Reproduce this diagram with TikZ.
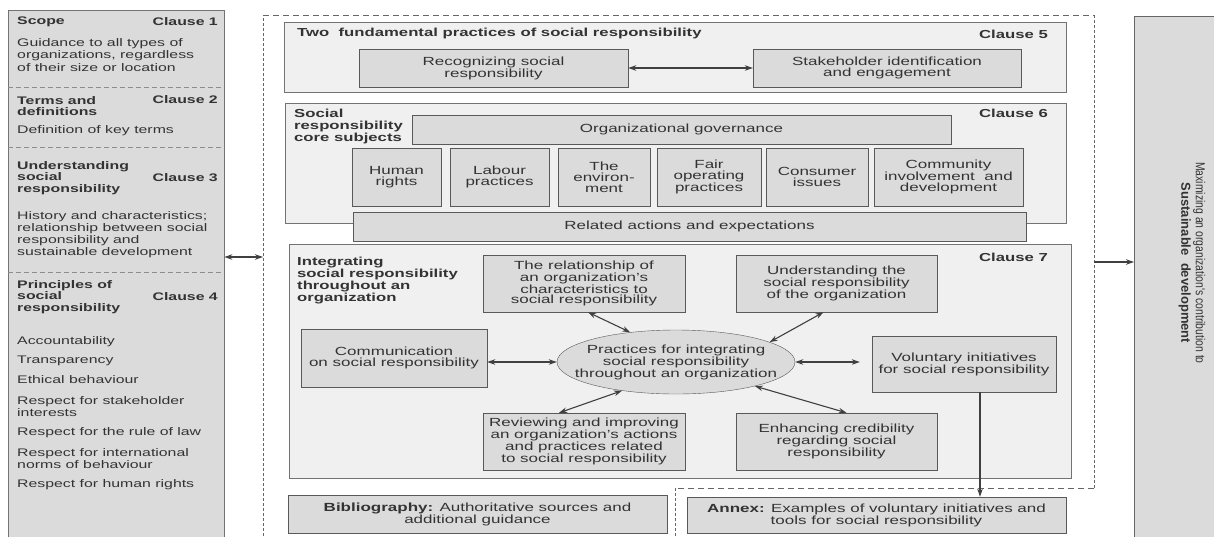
\documentclass[tikz,border=0pt]{standalone}
\usepackage{fontspec}
\setmainfont{Liberation Sans}[FakeStretch=1.44]
\newfontfamily\narrowfont{Liberation Sans}[FakeStretch=0.8]
\newfontfamily\uprightfont{Liberation Sans}
\usetikzlibrary{arrows.meta,shapes.geometric}

\newcommand{\boxfont}{\fontsize{11.8}{10.8}\selectfont}
\newcommand{\headfont}{\fontsize{11.6}{12}\selectfont\bfseries}
\newcommand{\sidefont}{\fontsize{11}{12.8}\selectfont}
\newcommand{\sideheadfont}{\fontsize{11}{11.8}\selectfont\bfseries}

\begin{document}
\begin{tikzpicture}[x=1pt, y=-1pt,
    every node/.style={text=black!80, inner sep=0pt},
    panel/.style={draw=black!55, fill=black!6, anchor=north west},
    box/.style={draw=black!65, fill=black!14, align=center, font=\boxfont},
    head/.style={font=\headfont, align=left, anchor=west},
    clause/.style={font=\headfont, anchor=east},
    sidetext/.style={font=\sidefont, align=left, anchor=west},
    sidehead/.style={font=\sideheadfont, align=left, anchor=west},
    sideclause/.style={font=\sideheadfont, anchor=east},
    sepline/.style={draw=black!45, line width=0.8pt, dash pattern=on 5pt off 3pt},
    outline/.style={draw=black!60, line width=0.9pt},
    >={Stealth[length=8pt,width=5.5pt]},
    link/.style={<->, line width=1.1pt, draw=black!75}]

    \useasboundingbox (0,0) rectangle (1214,536);

    % left column
    \node[panel, fill=black!14, minimum width=216, minimum height=530] (leftcol) at (8,10) {};
    \draw[sepline] (8,87) -- (224,87);
    \draw[sepline] (8,147) -- (224,147);
    \draw[sepline] (8,272) -- (224,272);

    \node[sidehead] (scope) at (17,22) {Scope};
    \node[sideclause] (cl1) at (218,22) {Clause 1};
    \node[sidetext] (scopetxt) at (17,55) {Guidance to all types of\\organizations, regardless\\of their size or location};

    \node[sidehead] (terms) at (17,106) {Terms and\\definitions};
    \node[sideclause] (cl2) at (218,100) {Clause 2};
    \node[sidetext] (termstxt) at (17,131) {Definition of key terms};

    \node[sidehead] (underst) at (17,178) {Understanding\\social\\responsibility};
    \node[sideclause] (cl3) at (218,178) {Clause 3};
    \node[sidetext, font=\fontsize{11}{12}\selectfont] (understtxt) at (17,235) {History and characteristics;\\relationship between social\\responsibility and\\sustainable development};

    \node[sidehead] (princ) at (17,297) {Principles of\\social\\responsibility};
    \node[sideclause] (cl4) at (218,297) {Clause 4};
    \foreach \y/\txt [count=\i] in {342/Accountability, 361/Transparency, 380/Ethical behaviour,
        406.5/{Respect for stakeholder\\interests}, 433/Respect for the rule of law,
        458.5/{Respect for international\\norms of behaviour}, 485/Respect for human rights}{
        \node[sidetext] (prin\i) at (17,\y) {\txt};
    }

    % dashed frame round the clauses
    \draw[outline, dash pattern=on 6pt off 4pt] (263,15) -- (1094,15) (1094,488) -- (675,488);
    \draw[outline, dash pattern=on 3pt off 2pt] (263,536) -- (263,15) (1094,15) -- (1094,488) (675,488) -- (675,536);
    \coordinate (frameL) at (263,257);
    \coordinate (frameR) at (1094,262);

    % clause 5
    \node[panel, minimum width=782, minimum height=70] (fund) at (284,22) {};
    \node[head] (fundtitle) at (297,33) {Two~~fundamental practices of social responsibility};
    \node[clause] (cl5) at (1048,34) {Clause 5};
    \node[box, minimum width=269, minimum height=38] (recog) at (493.5,68) {Recognizing social\\responsibility};
    \node[box, minimum width=268, minimum height=38] (stake) at (887,68) {Stakeholder identification\\and engagement};
    \draw[link] (recog) -- (stake);

    % clause 6
    \node[panel, minimum width=781, minimum height=120] (core) at (285,103) {};
    \node[head] (coretitle) at (294,126) {Social\\responsibility\\core subjects};
    \node[clause] (cl6) at (1048,113) {Clause 6};
    \node[box, minimum width=539, minimum height=29] (gov) at (681.5,129.5) {Organizational governance};
    \foreach \name/\cx/\w/\txt in {human/396.5/89/{Human\\rights}, labour/499.5/99/{Labour\\practices},
        env/604/92/{The\\environ-\\ment}, fair/709/104/{Fair\\operating\\practices},
        consumer/817/102/{Consumer\\issues}, community/948.5/149/{Community\\involvement~~and\\development}}{
        \node[box, minimum width=\w, minimum height=58] (\name) at (\cx,177) {\txt};
    }
    \node[box, minimum width=673, minimum height=29] (related) at (689.5,226.5) {Related actions and expectations};

    % clause 7
    \node[panel, minimum width=782, minimum height=234] (integ) at (289,244) {};
    \node[head] (integtitle) at (297,280.5) {Integrating\\social responsibility\\throughout an\\organization};
    \node[clause] (cl7) at (1048,257) {Clause 7};
    \node[box, minimum width=202, minimum height=57] (charac) at (584,283.5) {The relationship of\\an organization's\\characteristics to\\social responsibility};
    \node[box, minimum width=201, minimum height=57] (understand) at (836.5,283.5) {Understanding the\\social responsibility\\of the organization};
    \node[box, minimum width=186, minimum height=58] (comm) at (394,358) {Communication\\on social responsibility};
    \node[box, minimum width=184, minimum height=56] (volunt) at (964,364) {Voluntary initiatives\\for social responsibility};
    \node[box, minimum width=202, minimum height=57] (review) at (584,441.5) {Reviewing and improving\\an organization's actions\\and practices related\\to social responsibility};
    \node[box, minimum width=201, minimum height=57] (enhance) at (836.5,441.5) {Enhancing credibility\\regarding social\\responsibility};
    \node[draw=black!65, fill=black!14, ellipse, minimum width=238, minimum height=64,
        label={[align=center, font=\boxfont, text=black!80]center:Practices for integrating\\social responsibility\\throughout an organization}] (practice) at (676,362) {};

    \draw[link] ([xshift=4pt]charac.south) -- (practice.147);
    \draw[link] ([xshift=-13pt]understand.south) -- (practice.12);
    \draw[link] (practice.west -| comm.east) -- (practice.west);
    \draw[link, shorten >=12pt] (practice.east) -- (practice.east -| volunt.west);
    \draw[link] ([xshift=-25pt]review.north) -- (practice.208);
    \draw[link] ([xshift=10pt]enhance.north) -- (practice.343);

    % bibliography and annex
    \node[box, minimum width=379, minimum height=38] (biblio) at (477.5,514) {\textbf{Bibliography:} Authoritative sources and\\additional guidance};
    \node[box, minimum width=379, minimum height=36] (annex) at (876.5,515) {\textbf{Annex:} Examples of voluntary initiatives and\\tools for social responsibility};
    \draw[->, line width=1.1pt, draw=black!75] ([xshift=16pt]volunt.south) -- ([xshift=16pt]volunt.south |- annex.north);

    % sustainable development
    \node[draw=black!60, fill=black!14, anchor=north west, minimum width=82, minimum height=530] (sustbox) at (1134,16) {};
    \node[rotate=-90, align=center, font=\fontsize{13}{14.5}\selectfont] (sust) at (1192,263)
        {{\narrowfont Maximizing an organization's contribution to}\\{\uprightfont\bfseries Sustainable~~development}};

    \draw[link] (frameL -| leftcol.east) -- (frameL);
    \draw[->, line width=1.1pt, draw=black!75] (frameR) -- (frameR -| sustbox.west);

\end{tikzpicture}
\end{document}
